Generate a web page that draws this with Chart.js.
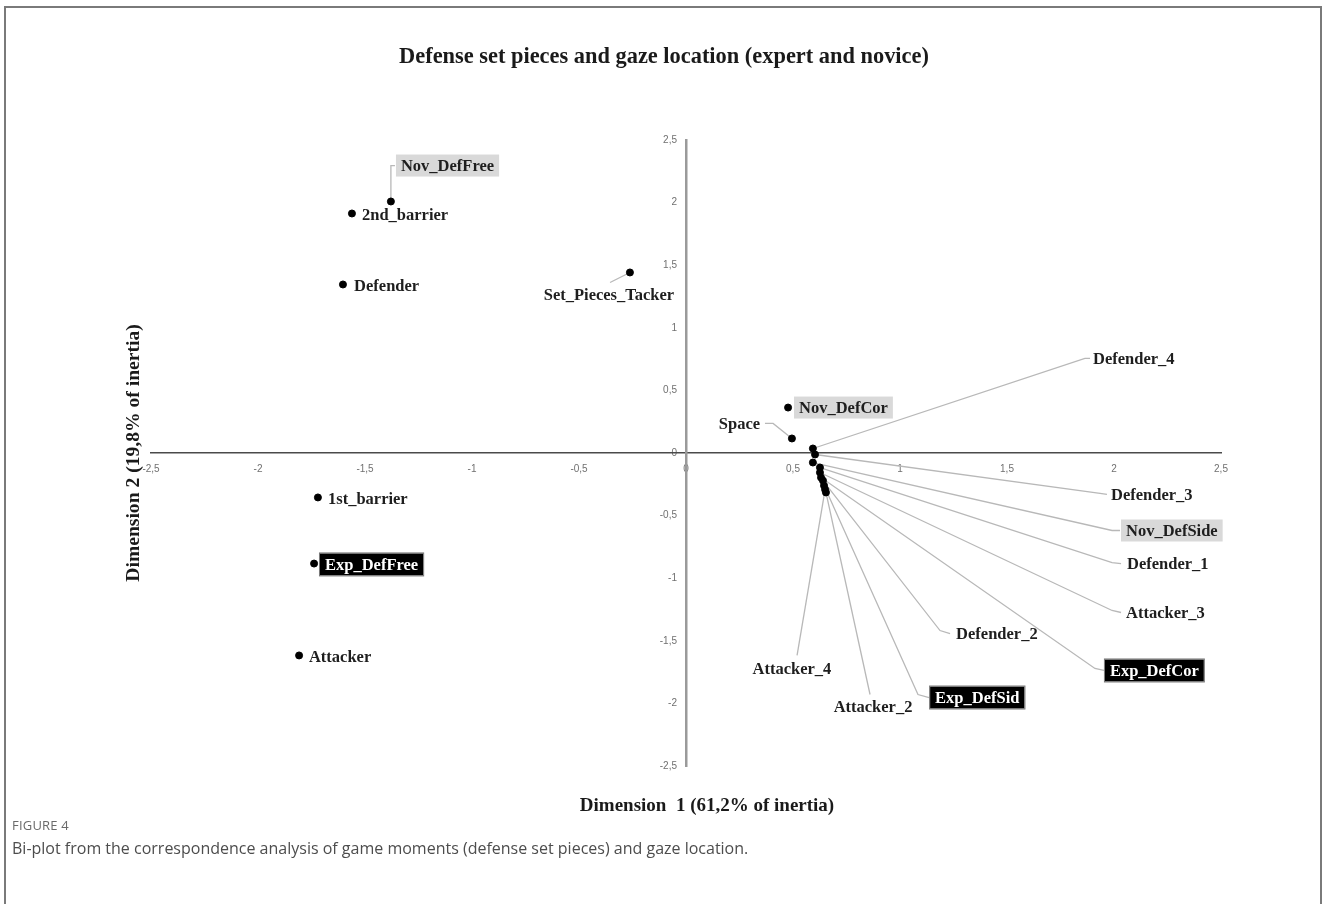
<!DOCTYPE html>
<html>
<head>
<meta charset="utf-8">
<script src="https://cdn.jsdelivr.net/npm/chart.js@4.4.0/dist/chart.umd.min.js"></script>
<style>
  html, body { margin: 0; padding: 0; background: #fff; }
  body { width: 1328px; height: 904px; position: relative; overflow: hidden; }
  #frame { position: absolute; left: 4px; top: 6px; width: 1318px; height: 1000px;
           border: 2px solid #7a7a7a; border-bottom: none; box-sizing: border-box; }
  #wrap { position: absolute; left: 0; top: 0; width: 1328px; height: 904px; }
  #fig { position: absolute; left: 12px; top: 816px; font-family: "Open Sans", sans-serif;
         font-size: 13px; color: #6a6a6a; letter-spacing: 0.2px; }
  #cap { position: absolute; left: 12px; top: 837px; font-family: "Open Sans", sans-serif;
         font-size: 16px; color: #4d4d4d; }
</style>
</head>
<body>
<div id="frame"></div>
<div id="wrap"><canvas id="c" width="1328" height="904"></canvas></div>
<div id="fig">FIGURE 4</div>
<div id="cap">Bi-plot from the correspondence analysis of game moments (defense set pieces) and gaze location.</div>
<script>
// ---------------- data ----------------
const categories = ['Nov_DefFree','2nd_barrier','Defender','Set_Pieces_Tacker','Nov_DefCor','Space',
  'Defender_4','Defender_3','Nov_DefSide','Defender_1','Attacker_3','Exp_DefCor','Defender_2',
  'Exp_DefSid','Attacker_2','Attacker_4','1st_barrier','Exp_DefFree','Attacker'];
const kinds = ['novice','gaze','gaze','gaze','novice','gaze',
  'gaze','gaze','novice','gaze','gaze','expert','gaze',
  'expert','gaze','gaze','gaze','expert','gaze'];
const dim1 = [-1.379,-1.561,-1.603,-0.262,0.477,0.495,
  0.593,0.603,0.593,0.626,0.626,0.631,0.640,
  0.645,0.654,0.650,-1.720,-1.738,-1.808];
const dim2 = [2.009,1.913,1.346,1.442,0.363,0.116,
  0.036,-0.012,-0.076,-0.116,-0.156,-0.196,-0.220,
  -0.260,-0.315,-0.292,-0.355,-0.883,-1.617];
const tickValues = [-2.5,-2,-1.5,-1,-0.5,0,0.5,1,1.5,2,2.5];
const titleText = 'Defense set pieces and gaze location (expert and novice)';
const xTitle = 'Dimension  1 (61,2% of inertia)';
const yTitle = 'Dimension 2 (19,8% of inertia)';

// ------------- label placement (data units) -------------
const labelLayout = {
  'Nov_DefFree':      {at:[-1.332, 2.296], align:'left',  leader:[[-1.379,2.296],[-1.360,2.296]]},
  '2nd_barrier':      {at:[-1.514, 1.905], align:'left'},
  'Defender':         {at:[-1.551, 1.338], align:'left'},
  'Set_Pieces_Tacker':{at:[-0.360, 1.266], align:'center', leader:[[-0.355,1.362]]},
  'Nov_DefCor':       {at:[0.528, 0.363],  align:'left'},
  'Space':            {at:[0.346, 0.236],  align:'right', leader:[[0.407,0.236],[0.369,0.236]]},
  'Defender_4':       {at:[1.902, 0.755],  align:'left', leader:[[1.864,0.755],[1.888,0.755]]},
  'Defender_3':       {at:[1.986,-0.331],  align:'left', leader:[[1.935,-0.323],[1.967,-0.331]]},
  'Nov_DefSide':      {at:[2.056,-0.619],  align:'left', leader:[[1.991,-0.619],[2.028,-0.619]]},
  'Defender_1':       {at:[2.061,-0.883],  align:'left', leader:[[1.991,-0.875],[2.033,-0.883]]},
  'Attacker_3':       {at:[2.056,-1.274],  align:'left', leader:[[1.991,-1.258],[2.033,-1.274]]},
  'Exp_DefCor':       {at:[1.981,-1.737],  align:'left', leader:[[1.911,-1.721],[1.953,-1.737]]},
  'Defender_2':       {at:[1.262,-1.442],  align:'left', leader:[[1.187,-1.418],[1.234,-1.442]]},
  'Exp_DefSid':       {at:[1.164,-1.953],  align:'left', leader:[[1.084,-1.929],[1.136,-1.953]]},
  'Attacker_2':       {at:[0.874,-2.025],  align:'center', leader:[[0.860,-1.929]]},
  'Attacker_4':       {at:[0.495,-1.721],  align:'center', leader:[[0.519,-1.617]]},
  '1st_barrier':      {at:[-1.673,-0.363], align:'left'},
  'Exp_DefFree':      {at:[-1.687,-0.890], align:'left'},
  'Attacker':         {at:[-1.762,-1.625], align:'left'}
};

const LABEL_FONT = 'bold 16.5px "Liberation Serif", "Times New Roman", serif';
const fmt = v => String(v).replace('.', ',');

const annotPlugin = {
  id: 'annot',
  beforeDraw(chart) {
    const {ctx, scales:{x, y}} = chart;
    const ax = x.getPixelForValue(0), ay = y.getPixelForValue(0);
    ctx.save();
    ctx.font = '10px "Liberation Sans", Arial, sans-serif';
    ctx.fillStyle = '#707070';
    ctx.textAlign = 'center'; ctx.textBaseline = 'middle';
    x.ticks.forEach(t => ctx.fillText(fmt(t.value), x.getPixelForValue(t.value), ay + 16));
    ctx.textAlign = 'right';
    y.ticks.forEach(t => ctx.fillText(fmt(t.value), ax - 9, y.getPixelForValue(t.value)));
    ctx.restore();
  },
  beforeDatasetsDraw(chart) {
    const {ctx, scales:{x, y}} = chart;
    ctx.save();
    ctx.strokeStyle = '#b8b8b8';
    ctx.lineWidth = 1.3;
    categories.forEach((name, i) => {
      const L = labelLayout[name];
      if (!L || !L.leader) return;
      ctx.beginPath();
      ctx.moveTo(x.getPixelForValue(dim1[i]), y.getPixelForValue(dim2[i]));
      L.leader.forEach(p => ctx.lineTo(x.getPixelForValue(p[0]), y.getPixelForValue(p[1])));
      ctx.stroke();
    });
    ctx.restore();
  },
  afterDatasetsDraw(chart) {
    const {ctx, scales:{x, y}} = chart;
    ctx.save();
    ctx.font = LABEL_FONT;
    ctx.textBaseline = 'middle';
    categories.forEach((name, i) => {
      const L = labelLayout[name];
      if (!L) return;
      let px = x.getPixelForValue(L.at[0]);
      const py = y.getPixelForValue(L.at[1]);
      const w = ctx.measureText(name).width;
      let left = px;
      if (L.align === 'center') left = px - w / 2;
      else if (L.align === 'right') left = px - w;
      const kind = kinds[i];
      if (kind === 'novice') {
        ctx.fillStyle = '#d9d9d9';
        ctx.fillRect(left - 5, py - 11, w + 10, 22);
        ctx.fillStyle = '#1e1e1e';
      } else if (kind === 'expert') {
        ctx.fillStyle = '#000';
        ctx.fillRect(left - 5, py - 11, w + 10, 22);
        ctx.strokeStyle = '#777'; ctx.lineWidth = 1;
        ctx.strokeRect(left - 5.5, py - 11.5, w + 11, 23);
        ctx.fillStyle = '#fff';
      } else {
        ctx.fillStyle = '#1e1e1e';
      }
      ctx.textAlign = 'left';
      ctx.fillText(name, left, py + 1);
    });
    ctx.restore();
  },
  afterDraw(chart) {
    const {ctx} = chart;
    ctx.save();
    ctx.fillStyle = '#1a1a1a';
    ctx.textAlign = 'center'; ctx.textBaseline = 'middle';
    ctx.font = 'bold 22.4px "Liberation Serif", "Times New Roman", serif';
    ctx.fillText(titleText, 664, 57);
    ctx.font = 'bold 19px "Liberation Serif", "Times New Roman", serif';
    ctx.fillText(xTitle, 707, 806);
    ctx.font = 'bold 19.6px "Liberation Serif", "Times New Roman", serif';
    ctx.translate(134, 453);
    ctx.rotate(-Math.PI / 2);
    ctx.fillText(yTitle, 0, 0);
    ctx.restore();
  }
};

const points = dim1.map((v, i) => ({x: v, y: dim2[i]}));

new Chart(document.getElementById('c'), {
  type: 'scatter',
  data: { datasets: [{ data: points, backgroundColor: '#000', borderColor: '#000',
                       pointRadius: 3.5, pointHoverRadius: 3.5 }] },
  options: {
    responsive: false,
    animation: false,
    events: [],
    layout: { padding: { left: 151, right: 107, top: 140, bottom: 138 } },
    plugins: { legend: { display: false }, tooltip: { enabled: false }, title: { display: false } },
    scales: {
      x: {
        type: 'linear', min: -2.5, max: 2.5, position: { y: 0 },
        afterBuildTicks: s => { s.ticks = tickValues.map(v => ({value: v})); },
        afterFit: s => { s.height = 0; },
        grid: { display: false, drawTicks: false },
        border: { display: true, color: '#4a4a4a', width: 1.5 },
        ticks: { display: false }
      },
      y: {
        type: 'linear', min: -2.5, max: 2.5, position: { x: 0 },
        afterBuildTicks: s => { s.ticks = tickValues.map(v => ({value: v})); },
        afterFit: s => { s.width = 0; },
        grid: { display: false, drawTicks: false },
        border: { display: true, color: '#9a9a9a', width: 2.5 },
        ticks: { display: false }
      }
    }
  },
  plugins: [annotPlugin]
});
</script>
</body>
</html>
